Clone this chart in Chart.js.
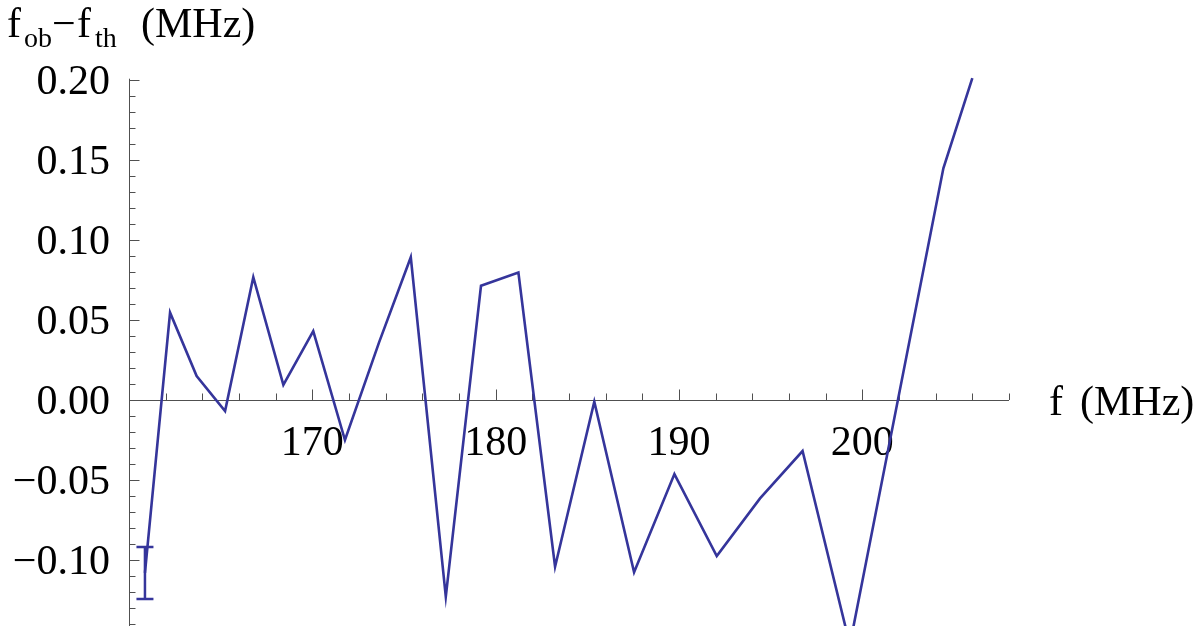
<!DOCTYPE html>
<html>
<head>
<meta charset="utf-8">
<script src="https://cdn.jsdelivr.net/npm/chart.js@4.4.1/dist/chart.umd.min.js"></script>
<style>
    html, body { margin: 0; padding: 0; background: #ffffff; }
    #wadah { position: relative; width: 1200px; height: 626px; }
</style>
</head>
<body>
<div id="wadah"><canvas id="grafikSelisih"></canvas></div>
<script>
// Data yang dibaca dari gambar
const frekuensi = [160.87, 162.24, 163.69, 165.24, 166.78, 168.42, 170.05, 171.78, 173.64, 175.37,
                   177.28, 179.20, 181.24, 183.24, 185.38, 187.55, 189.75, 192.06, 194.42, 196.74,
                   199.32, 204.42, 206.00];
const selisih = [-0.108, 0.0546, 0.015, -0.0069, 0.0767, 0.0094, 0.0431, -0.025, 0.036, 0.0892,
                 -0.1229, 0.0714, 0.0796, -0.1042, -0.001, -0.1077, -0.0463, -0.0975, -0.0615, -0.0319,
                 -0.153, 0.1448, 0.2011];

// Error bar pada titik pertama
const errorFrek = [160.87];
const errorBawah = [-0.1244];
const errorAtas = [-0.0918];

// Label sumbu
const labelX = [170, 180, 190, 200];
const labelY = [0.20, 0.15, 0.10, 0.05, 0.00, -0.05, -0.10];

const warnaGaris = '#35359b';
const warnaSumbu = '#505050';
const hurufSerif = '"Liberation Serif", "DejaVu Serif", serif';

Chart.defaults.font.family = hurufSerif;
Chart.defaults.color = '#000000';

function teksMinus(v) {
    return v.toFixed(2).replace('-', '\u2212');
}

// --- Sumbu gaya Mathematica (menyilang di f = 160, y = 0) ---
const sumbuPlugin = {
    id: 'sumbuPlugin',
    beforeDatasetsDraw(chart) {
        const ctx = chart.ctx;
        const sx = chart.scales.x;
        const sy = chart.scales.y;
        const x0 = sx.getPixelForValue(160);
        const y0 = sy.getPixelForValue(0);
        const area = chart.chartArea;

        ctx.save();
        ctx.strokeStyle = warnaSumbu;
        ctx.lineWidth = 1;

        // garis sumbu
        ctx.beginPath();
        ctx.moveTo(x0, Math.round(y0) + 0.5);
        ctx.lineTo(sx.getPixelForValue(208), Math.round(y0) + 0.5);
        ctx.moveTo(Math.round(x0) + 0.5, area.top);
        ctx.lineTo(Math.round(x0) + 0.5, area.bottom);
        ctx.stroke();

        // tick sumbu x (setiap 2 MHz)
        ctx.beginPath();
        for (let f = 162; f <= 208; f += 2) {
            const px = Math.round(sx.getPixelForValue(f)) + 0.5;
            const panjang = f % 10 === 0 ? 10.5 : 6.5;
            ctx.moveTo(px, y0);
            ctx.lineTo(px, y0 - panjang);
        }
        // tick sumbu y (setiap 0.01)
        for (let k = -14; k <= 20; k++) {
            if (k === 0) continue;
            const py = Math.round(sy.getPixelForValue(k / 100)) + 0.5;
            const panjang = k % 5 === 0 ? 10.5 : 6.5;
            ctx.moveTo(x0, py);
            ctx.lineTo(x0 + panjang, py);
        }
        ctx.stroke();

        // label tick
        ctx.fillStyle = '#000000';
        ctx.font = '42px ' + hurufSerif;
        ctx.textBaseline = 'alphabetic';
        ctx.textAlign = 'center';
        labelX.forEach(f => {
            ctx.fillText(String(f), sx.getPixelForValue(f), y0 + 55);
        });
        ctx.textAlign = 'right';
        labelY.forEach(v => {
            ctx.fillText(teksMinus(v), x0 - 19, sy.getPixelForValue(v) + 14.5);
        });

        // judul sumbu x
        ctx.textAlign = 'left';
        ctx.fillText('f', 1049, 415);
        ctx.fillText('(MHz)', 1080, 415);

        // judul sumbu y: f_ob − f_th (MHz)
        const besar = '42px ' + hurufSerif;
        const kecil = '28px ' + hurufSerif;
        ctx.font = besar; ctx.fillText('f', 7, 37);
        ctx.font = kecil; ctx.fillText('ob', 24, 47);
        ctx.font = besar; ctx.fillText('\u2212', 52, 37);
        ctx.font = besar; ctx.fillText('f', 77, 37);
        ctx.font = kecil; ctx.fillText('th', 95, 47);
        ctx.font = besar; ctx.fillText('(MHz)', 141, 37);
        ctx.restore();
    },
    afterDatasetsDraw(chart) {
        const ctx = chart.ctx;
        const sx = chart.scales.x;
        const sy = chart.scales.y;
        ctx.save();
        ctx.strokeStyle = warnaGaris;
        ctx.lineWidth = 2.5;
        errorFrek.forEach((f, i) => {
            const px = sx.getPixelForValue(f);
            const atas = sy.getPixelForValue(errorAtas[i]);
            const bawah = sy.getPixelForValue(errorBawah[i]);
            ctx.beginPath();
            ctx.moveTo(px, atas);
            ctx.lineTo(px, bawah);
            ctx.moveTo(px - 8.5, atas);
            ctx.lineTo(px + 8.5, atas);
            ctx.moveTo(px - 8.5, bawah);
            ctx.lineTo(px + 8.5, bawah);
            ctx.stroke();
        });
        ctx.restore();
    }
};

// --- INISIALISASI GRAFIK ---
function inisialisasiGrafik() {
    const ctx = document.getElementById('grafikSelisih').getContext('2d');
    new Chart(ctx, {
        type: 'line',
        data: {
            datasets: [{
                data: frekuensi.map((f, i) => ({ x: f, y: selisih[i] })),
                borderColor: warnaGaris,
                borderWidth: 2.6,
                pointRadius: 0,
                tension: 0,
                fill: false,
                clip: false
            }]
        },
        options: {
            responsive: true,
            maintainAspectRatio: false,
            devicePixelRatio: 1,
            animation: false,
            layout: { padding: { left: 129, right: 191, top: 78.7, bottom: 0 } },
            scales: {
                x: { type: 'linear', min: 160, max: 208, display: false },
                y: { type: 'linear', min: -0.14125, max: 0.2008, display: false }
            },
            plugins: {
                legend: { display: false },
                tooltip: { enabled: false }
            }
        },
        plugins: [sumbuPlugin]
    });
}

inisialisasiGrafik();
</script>
</body>
</html>
